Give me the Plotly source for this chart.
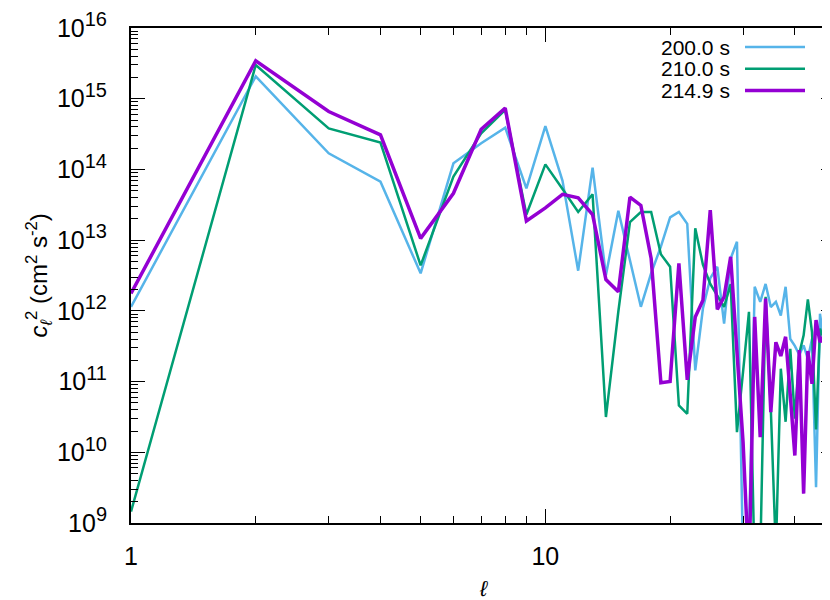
import numpy as np
import plotly.graph_objects as go

# multipole degree l = 1..50
ell = list(range(1, 51))

# c_l^2 spectra at three times (cm^2 s^-2)
t200 = [1.14e12, 2.07e15, 1.69e14, 6.7e13, 3.4e12, 1.22e14, 2.35e14, 3.9e14, 5.4e13, 4.1e14,
        6.9e13, 3.7e12, 1.06e14, 3.2e12, 2.6e13, 5.0e12, 1.14e12, 3.4e12, 8.1e12, 2.1e13,
        2.5e13, 1.7e13, 1.44e11, 1.08e12, 2.9e12, 4.2e12, 6.6e11, 5.5e12, 9.5e12, 3e8,
        6e8, 2.19e12, 1.34e12, 2.4e12, 1.13e12, 1.34e12, 8.6e11, 2.19e12, 4.0e11, 3.2e11,
        2.4e11, 3.25e11, 2.1e11, 4.0e11, 3.2e9, 9.1e11, 3.7e11, 5.0e11, 1.03e11, 4.9e10]

t210 = [1.45e9, 3.0e15, 3.8e14, 2.4e14, 4.4e12, 7.9e13, 3.25e14, 6.95e14, 2.3e13, 1.18e14,
        5.3e13, 2.5e13, 4.45e13, 3.15e10, 9.8e11, 1.8e13, 2.5e13, 2.5e13, 6.3e12, 4.2e12,
        4.6e10, 3.5e10, 1.47e13, 4.5e12, 2.4e12, 1.65e12, 1.14e12, 2.4e12, 1.93e10, 1.38e11,
        9.7e11, 2e8, 3e8, 1.58e12, 4.1e10, 4e8, 1.52e11, 2.7e10, 2.9e11, 3.0e10,
        2.5e11, 4.5e11, 1.45e12, 5.0e11, 2.1e10, 5.6e11, 4.0e11, 2.1e11, 3.6e10, 6.3e10]

t215 = [1.76e12, 3.44e15, 6.6e14, 3.08e14, 1.06e13, 4.6e13, 3.7e14, 7.35e14, 1.87e13, 2.86e13,
        4.45e13, 3.96e13, 2.3e13, 2.77e12, 1.86e12, 4.06e13, 3.1e13, 5.5e12, 9.6e10, 1.0e11,
        4.7e12, 1.06e11, 8.2e11, 1.41e12, 2.66e13, 1.05e12, 1.58e12, 5.8e12, 2.6e11, 1.39e10,
        2e8, 8.2e11, 1.64e10, 1.49e12, 3.7e10, 3.6e11, 2.3e11, 4.3e11, 6.4e10, 9.0e9,
        2.8e11, 2.6e9, 2.7e11, 9.3e10, 7.4e11, 3.6e11, 4.5e11, 3.9e9, 5.5e9, 6.7e10]

labels = ["200.0 s", "210.0 s", "214.9 s"]
colors = ["#56b4e9", "#009e73", "#9400d3"]
widths = [2.5, 2.5, 3.5]
series = [t200, t210, t215]

# axis ticks
ydec = list(range(9, 17))
yticks = [10.0 ** e for e in ydec]
ylabels = ["10<sup><span style='font-size:20px'>%d</span></sup>" % e for e in ydec]
xminor = [2, 3, 4, 5, 6, 7, 8, 9, 20, 30, 40]
yminor = [m * 10.0 ** e for e in range(9, 16) for m in range(2, 10)]

FONT = "Liberation Sans, Arial, sans-serif"

fig = go.Figure()
for lab, col, w, vals in zip(labels, colors, widths, series):
    fig.add_trace(go.Scatter(x=ell, y=vals, mode="lines", name=lab,
                             line=dict(color=col, width=w), showlegend=False))

# plot area in pixels (for placing legend / titles)
L, R, T, B = 123, 3, 20, 85
W, H = 830, 600
pw, ph = W - L - R, H - T - B

def px_x(p):
    return (p - L) / pw

def px_y(p):
    return (H - B - p) / ph

# gnuplot style key: text right aligned, sample line on the right
for i, (lab, col, w) in enumerate(zip(labels, colors, widths)):
    yy = px_y(39 + i * 21.8)
    fig.add_annotation(x=px_x(724), y=yy, xref="paper", yref="paper", text=lab,
                       showarrow=False, xanchor="right", yanchor="middle",
                       font=dict(size=21, color="black", family=FONT))
    fig.add_shape(type="line", xref="paper", yref="paper",
                  x0=px_x(737), x1=px_x(797), y0=yy, y1=yy,
                  line=dict(color=col, width=w))

fig.update_xaxes(type="log", range=[0, np.log10(50)], tickvals=[1, 10], ticktext=["1", "10"],
                 ticks="inside", ticklen=14, tickwidth=1.2, tickcolor="black",
                 showline=True, linecolor="black", linewidth=2, mirror="ticks",
                 showgrid=False, zeroline=False, ticklabelstandoff=10, automargin=False,
                 tickfont=dict(size=25, color="black", family=FONT),
                 minor=dict(tickvals=xminor, ticks="inside", ticklen=7, tickwidth=1.2,
                            tickcolor="black", showgrid=False))
fig.update_yaxes(type="log", range=[9, 16], tickvals=yticks, ticktext=ylabels,
                 ticks="inside", ticklen=14, tickwidth=1.2, tickcolor="black",
                 showline=True, linecolor="black", linewidth=2, mirror="ticks",
                 showgrid=False, zeroline=False, ticklabelstandoff=17, automargin=False,
                 tickfont=dict(size=25, color="black", family=FONT),
                 minor=dict(tickvals=yminor, ticks="inside", ticklen=7, tickwidth=1.2,
                            tickcolor="black", showgrid=False))

fig.add_annotation(x=px_x(30), y=0.5, xref="paper", yref="paper", textangle=-90,
                   text="<i>c</i><sub><i>ℓ</i></sub><sup>2</sup> (cm<sup>2</sup> s<sup>-2</sup>)",
                   showarrow=False, xanchor="center", yanchor="middle",
                   font=dict(size=24, color="black", family=FONT))
fig.add_annotation(x=0.5, y=px_y(580), xref="paper", yref="paper", text="<i>ℓ</i>",
                   showarrow=False, xanchor="center", yanchor="middle",
                   font=dict(size=22, color="black", family=FONT))

fig.update_layout(width=W, height=H, margin=dict(l=L, r=R, t=T, b=B),
                  plot_bgcolor="white", paper_bgcolor="white",
                  font=dict(family=FONT, color="black"))

fig.write_html("out.html")
